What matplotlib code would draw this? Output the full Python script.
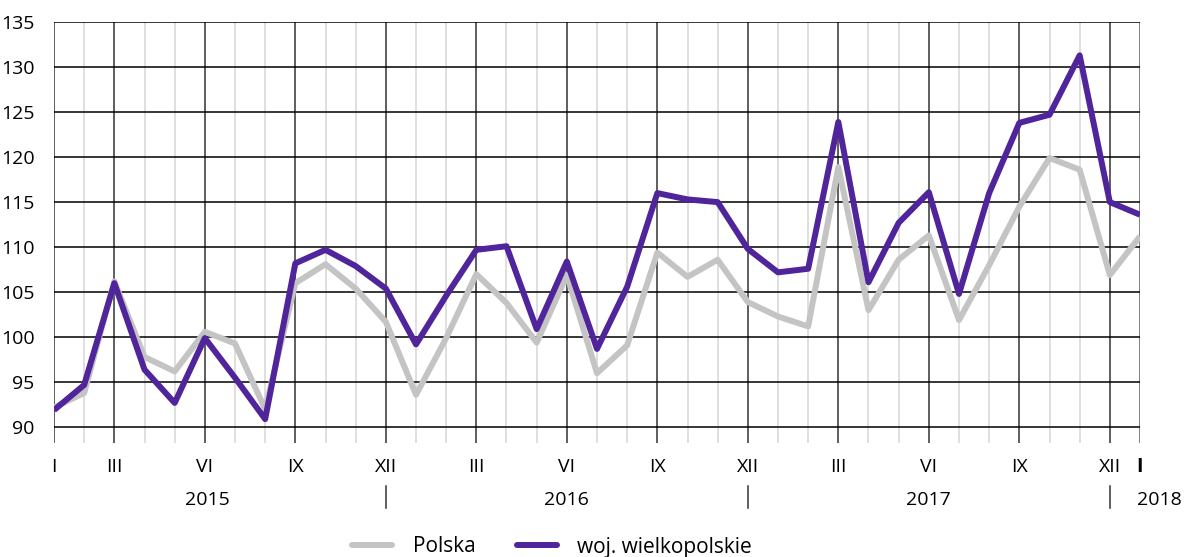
import matplotlib
matplotlib.use("Agg")
import matplotlib.pyplot as plt
from matplotlib.transforms import blended_transform_factory

plt.rcParams['font.family'] = ['Open Sans', 'DejaVu Sans']

# monthly index values, I 2015 .. I 2018
polska = [92.2, 93.8, 106.2, 97.8, 96.2, 100.6, 99.3, 92.0, 106.0, 108.1, 105.4, 101.7,
          93.6, 99.9, 107.0, 103.8, 99.4, 106.9, 96.0, 99.1, 109.4, 106.7, 108.6, 103.9,
          102.3, 101.2, 118.9, 103.0, 108.6, 111.3, 101.9, 108.0, 114.5, 119.9, 118.6, 106.9,
          111.2]
wielkopolskie = [91.9, 94.7, 106.0, 96.4, 92.7, 99.9, 95.5, 90.9, 108.2, 109.7, 107.9, 105.4,
                 99.2, 104.6, 109.7, 110.1, 100.9, 108.4, 98.7, 105.6, 116.0, 115.3, 115.0, 109.8,
                 107.2, 107.6, 123.9, 106.1, 112.7, 116.1, 104.8, 116.0, 123.8, 124.7, 131.3, 115.0,
                 113.6]
month_ticks = [0, 2, 5, 8, 11, 14, 17, 20, 23, 26, 29, 32, 35, 36]
month_labels = ['I', 'III', 'VI', 'IX', 'XII', 'III', 'VI', 'IX', 'XII', 'III', 'VI', 'IX', 'XII', 'I']
years = ['2015', '2016', '2017', '2018']
year_pos = [5.07, 17.0, 29.0, 36.65]
year_seps = [11, 23, 35]

fig = plt.figure(figsize=(11.85, 5.57), dpi=100)
ax = fig.add_axes([54/1185, 1-443/557, 1086/1185, 421/557])

x = list(range(len(polska)))
ax.set_xlim(0, 36)
ax.set_ylim(88.25, 135)

# grid
for i in range(37):
    if i in month_ticks[:-1] or i == 0:
        ax.axvline(i, color='#333333', lw=1.1, zorder=1)
    elif i == 36:
        ax.axvline(i, color='#777777', lw=1.3, zorder=1)
    else:
        ax.axvline(i, color='#d6d6d6', lw=1.1, zorder=1)
for v in range(90, 136, 5):
    ax.axhline(v, color='black', lw=1.1, zorder=1)

ax.plot(x, polska, color='#c4c4c4', lw=4.3, solid_capstyle='butt', zorder=3, label='Polska')
ax.plot(x, wielkopolskie, color='#50249a', lw=4.3, solid_capstyle='butt', zorder=4,
        label='woj. wielkopolskie')

for s in ax.spines.values():
    s.set_visible(False)
ax.set_yticks(range(90, 136, 5))
ax.tick_params(axis='y', length=0, pad=14, labelsize=14)
ax.set_xticks([])

trans = blended_transform_factory(ax.transData, fig.transFigure)
for t, lab in zip(month_ticks, month_labels):
    w = 'bold' if (t == 36) else 'normal'
    ax.text(t, 1-467/557, lab, transform=trans, ha='center', va='center', fontsize=14,
            fontweight=w)
for p, yr in zip(year_pos, years):
    ax.text(p, 1-500/557, yr, transform=trans, ha='center', va='center', fontsize=14)
for s in year_seps:
    ax.plot([s, s], [1-486/557, 1-508/557], transform=trans, color='#333333', lw=1.1,
            clip_on=False)

leg = fig.legend(loc='center', bbox_to_anchor=(0.466, 1-547/557), ncol=2, frameon=False,
                 fontsize=15, handlelength=1.9, columnspacing=2.0, handletextpad=1.0)
for line in leg.get_lines():
    line.set_solid_capstyle('round')

fig.savefig('out.png', dpi=100)
